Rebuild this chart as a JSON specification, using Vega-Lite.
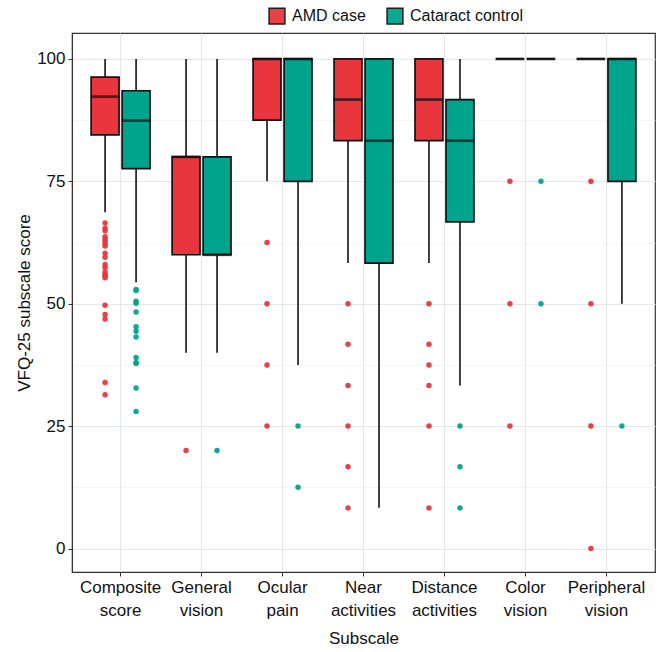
{
  "$schema": "https://vega.github.io/schema/vega-lite/v6.json",
  "width": 583,
  "height": 539,
  "autosize": {"type": "none"},
  "padding": {"left": 72, "top": 33, "right": 6, "bottom": 80},
  "background": "white",
  "config": {
    "font": "Liberation Sans",
    "view": {"stroke": "#333333", "strokeWidth": 1.2},
    "axis": {"labelFont": "Liberation Sans", "titleFont": "Liberation Sans", "labelFontSize": 17, "titleFontSize": 17, "titleFontWeight": "normal", "labelColor": "#111111", "titleColor": "#111111", "domainColor": "#333333", "tickColor": "#333333", "tickSize": 4},
    "legend": {"labelFont": "Liberation Sans", "labelFontSize": 16, "labelColor": "#111111"}
  },
  "datasets": {
    "boxes": [
      {"subscale": "Composite score", "group": "AMD case", "lower": 68.7, "q1": 84.5, "median": 92.3, "q3": 96.3, "upper": 100},
      {"subscale": "Composite score", "group": "Cataract control", "lower": 54.4, "q1": 77.6, "median": 87.4, "q3": 93.5, "upper": 100},
      {"subscale": "General vision", "group": "AMD case", "lower": 40, "q1": 60, "median": 80, "q3": 80, "upper": 100},
      {"subscale": "General vision", "group": "Cataract control", "lower": 40, "q1": 60, "median": 60, "q3": 80, "upper": 100},
      {"subscale": "Ocular pain", "group": "AMD case", "lower": 75, "q1": 87.5, "median": 100, "q3": 100, "upper": 100},
      {"subscale": "Ocular pain", "group": "Cataract control", "lower": 37.5, "q1": 75, "median": 100, "q3": 100, "upper": 100},
      {"subscale": "Near activities", "group": "AMD case", "lower": 58.3, "q1": 83.3, "median": 91.7, "q3": 100, "upper": 100},
      {"subscale": "Near activities", "group": "Cataract control", "lower": 8.3, "q1": 58.3, "median": 83.3, "q3": 100, "upper": 100},
      {"subscale": "Distance activities", "group": "AMD case", "lower": 58.3, "q1": 83.3, "median": 91.7, "q3": 100, "upper": 100},
      {"subscale": "Distance activities", "group": "Cataract control", "lower": 33.3, "q1": 66.7, "median": 83.3, "q3": 91.7, "upper": 100},
      {"subscale": "Color vision", "group": "AMD case", "lower": 100, "q1": 100, "median": 100, "q3": 100, "upper": 100},
      {"subscale": "Color vision", "group": "Cataract control", "lower": 100, "q1": 100, "median": 100, "q3": 100, "upper": 100},
      {"subscale": "Peripheral vision", "group": "AMD case", "lower": 100, "q1": 100, "median": 100, "q3": 100, "upper": 100},
      {"subscale": "Peripheral vision", "group": "Cataract control", "lower": 50, "q1": 75, "median": 100, "q3": 100, "upper": 100}
    ],
    "outliers": [
      {"subscale": "Composite score", "group": "AMD case", "score": 66.5},
      {"subscale": "Composite score", "group": "AMD case", "score": 65.4},
      {"subscale": "Composite score", "group": "AMD case", "score": 64.9},
      {"subscale": "Composite score", "group": "AMD case", "score": 63.7},
      {"subscale": "Composite score", "group": "AMD case", "score": 63.2},
      {"subscale": "Composite score", "group": "AMD case", "score": 62.7},
      {"subscale": "Composite score", "group": "AMD case", "score": 62.2},
      {"subscale": "Composite score", "group": "AMD case", "score": 61.8},
      {"subscale": "Composite score", "group": "AMD case", "score": 60.3},
      {"subscale": "Composite score", "group": "AMD case", "score": 59.5},
      {"subscale": "Composite score", "group": "AMD case", "score": 58.0},
      {"subscale": "Composite score", "group": "AMD case", "score": 57.4},
      {"subscale": "Composite score", "group": "AMD case", "score": 56.5},
      {"subscale": "Composite score", "group": "AMD case", "score": 56.0},
      {"subscale": "Composite score", "group": "AMD case", "score": 55.6},
      {"subscale": "Composite score", "group": "AMD case", "score": 55.3},
      {"subscale": "Composite score", "group": "AMD case", "score": 49.7},
      {"subscale": "Composite score", "group": "AMD case", "score": 47.8},
      {"subscale": "Composite score", "group": "AMD case", "score": 46.9},
      {"subscale": "Composite score", "group": "AMD case", "score": 33.9},
      {"subscale": "Composite score", "group": "AMD case", "score": 31.4},
      {"subscale": "Composite score", "group": "Cataract control", "score": 52.9},
      {"subscale": "Composite score", "group": "Cataract control", "score": 52.7},
      {"subscale": "Composite score", "group": "Cataract control", "score": 50.5},
      {"subscale": "Composite score", "group": "Cataract control", "score": 50.1},
      {"subscale": "Composite score", "group": "Cataract control", "score": 48.3},
      {"subscale": "Composite score", "group": "Cataract control", "score": 45.3},
      {"subscale": "Composite score", "group": "Cataract control", "score": 44.4},
      {"subscale": "Composite score", "group": "Cataract control", "score": 43.2},
      {"subscale": "Composite score", "group": "Cataract control", "score": 39.0},
      {"subscale": "Composite score", "group": "Cataract control", "score": 38.0},
      {"subscale": "Composite score", "group": "Cataract control", "score": 37.8},
      {"subscale": "Composite score", "group": "Cataract control", "score": 32.8},
      {"subscale": "Composite score", "group": "Cataract control", "score": 28.0},
      {"subscale": "General vision", "group": "AMD case", "score": 20},
      {"subscale": "General vision", "group": "Cataract control", "score": 20},
      {"subscale": "Ocular pain", "group": "AMD case", "score": 62.5},
      {"subscale": "Ocular pain", "group": "AMD case", "score": 50},
      {"subscale": "Ocular pain", "group": "AMD case", "score": 37.5},
      {"subscale": "Ocular pain", "group": "AMD case", "score": 25},
      {"subscale": "Ocular pain", "group": "Cataract control", "score": 25},
      {"subscale": "Ocular pain", "group": "Cataract control", "score": 12.5},
      {"subscale": "Near activities", "group": "AMD case", "score": 50},
      {"subscale": "Near activities", "group": "AMD case", "score": 41.7},
      {"subscale": "Near activities", "group": "AMD case", "score": 33.3},
      {"subscale": "Near activities", "group": "AMD case", "score": 25},
      {"subscale": "Near activities", "group": "AMD case", "score": 16.7},
      {"subscale": "Near activities", "group": "AMD case", "score": 8.3},
      {"subscale": "Distance activities", "group": "AMD case", "score": 50},
      {"subscale": "Distance activities", "group": "AMD case", "score": 41.7},
      {"subscale": "Distance activities", "group": "AMD case", "score": 37.5},
      {"subscale": "Distance activities", "group": "AMD case", "score": 33.3},
      {"subscale": "Distance activities", "group": "AMD case", "score": 25},
      {"subscale": "Distance activities", "group": "AMD case", "score": 8.3},
      {"subscale": "Distance activities", "group": "Cataract control", "score": 25},
      {"subscale": "Distance activities", "group": "Cataract control", "score": 16.7},
      {"subscale": "Distance activities", "group": "Cataract control", "score": 8.3},
      {"subscale": "Color vision", "group": "AMD case", "score": 75},
      {"subscale": "Color vision", "group": "AMD case", "score": 50},
      {"subscale": "Color vision", "group": "AMD case", "score": 25},
      {"subscale": "Color vision", "group": "Cataract control", "score": 75},
      {"subscale": "Color vision", "group": "Cataract control", "score": 50},
      {"subscale": "Peripheral vision", "group": "AMD case", "score": 75},
      {"subscale": "Peripheral vision", "group": "AMD case", "score": 50},
      {"subscale": "Peripheral vision", "group": "AMD case", "score": 25},
      {"subscale": "Peripheral vision", "group": "AMD case", "score": 0},
      {"subscale": "Peripheral vision", "group": "Cataract control", "score": 25}
    ]
  },
  "encoding": {
    "x": {
      "field": "subscale", "type": "nominal",
      "sort": ["Composite score", "General vision", "Ocular pain", "Near activities", "Distance activities", "Color vision", "Peripheral vision"],
      "scale": {"paddingInner": 0, "paddingOuter": 0.1},
      "title": "Subscale",
      "axis": {"labelAngle": 0, "bandPosition": 0.5, "labelExpr": "split(datum.label, ' ')", "labelLineHeight": 23, "labelPadding": 3, "titlePadding": 12, "grid": true, "gridColor": "#e4e7e9", "gridWidth": 1}
    },
    "xOffset": {"field": "group", "type": "nominal", "scale": {"domain": ["AMD case", "Cataract control"], "paddingInner": 0.1, "paddingOuter": 0.356}}
  },
  "layer": [
    {
      "data": {"name": "boxes"},
      "mark": {"type": "rule", "color": "#111111", "strokeWidth": 1.6},
      "encoding": {
        "y": {"field": "lower", "type": "quantitative", "scale": {"domain": [-4.8, 105.3], "nice": false, "zero": false},
          "title": "VFQ-25 subscale score",
          "axis": {"values": [0, 12.5, 25, 37.5, 50, 62.5, 75, 87.5, 100],
            "labelExpr": "datum.value % 25 == 0 ? datum.label : ''",
            "tickOpacity": {"condition": {"test": "datum.value % 25 != 0", "value": 0}, "value": 1},
            "gridColor": {"condition": {"test": "datum.value % 25 != 0", "value": "#f0f2f3"}, "value": "#e4e7e9"},
            "gridWidth": {"condition": {"test": "datum.value % 25 != 0", "value": 0.7}, "value": 1},
            "grid": true, "titlePadding": 3, "labelPadding": 3}},
        "y2": {"field": "upper"}
      }
    },
    {
      "data": {"name": "boxes"},
      "mark": {"type": "bar", "stroke": "#111111", "strokeWidth": 1.7},
      "encoding": {
        "y": {"field": "q1", "type": "quantitative"},
        "y2": {"field": "q3"},
        "color": {"field": "group", "type": "nominal", "scale": {"domain": ["AMD case", "Cataract control"], "range": ["#E9363E", "#00A48D"]},
          "legend": {"title": null, "orient": "none", "legendX": 196, "legendY": -26, "direction": "horizontal", "symbolType": "square", "symbolSize": 250, "symbolStrokeColor": "#111111", "symbolStrokeWidth": 1.5, "symbolOpacity": 1, "labelOffset": 6, "columnPadding": 18}}
      }
    },
    {
      "data": {"name": "boxes"},
      "mark": {"type": "tick", "color": "#111111", "thickness": 2.8, "size": 29, "orient": "horizontal"},
      "encoding": {
        "y": {"field": "median", "type": "quantitative"}
      }
    },
    {
      "data": {"name": "outliers"},
      "mark": {"type": "circle", "size": 30, "opacity": 0.95},
      "encoding": {
        "y": {"field": "score", "type": "quantitative"},
        "color": {"field": "group", "type": "nominal"}
      }
    }
  ]
}
